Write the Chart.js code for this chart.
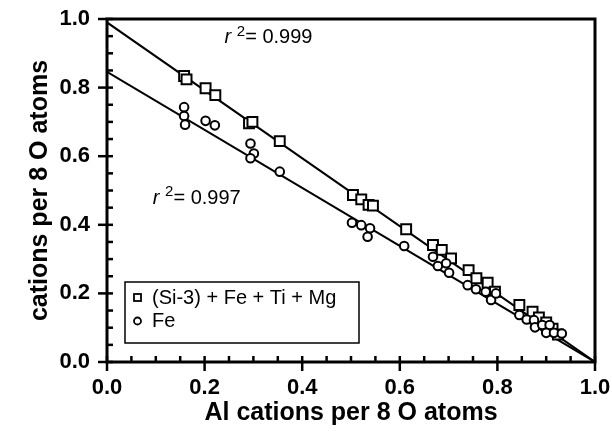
<!DOCTYPE html>
<html>
<head>
<meta charset="utf-8">
<script src="https://cdn.jsdelivr.net/npm/chart.js@4"></script>
<style>
  html, body { margin: 0; padding: 0; background: #fff; }
  #wrap { width: 612px; height: 433px; }
</style>
</head>
<body>
<div id="wrap"><canvas id="c" width="612" height="433"></canvas></div>
<script>
// (Si-3) + Fe + Ti + Mg  (carrés)
const sqX = [0.158, 0.163, 0.202, 0.222, 0.291, 0.298, 0.354, 0.504, 0.521, 0.536, 0.545, 0.613,
  0.668, 0.686, 0.705, 0.741, 0.757, 0.780, 0.795, 0.845, 0.872, 0.885, 0.900, 0.913, 0.924];
const sqY = [0.834, 0.824, 0.798, 0.778, 0.696, 0.700, 0.644, 0.487, 0.474, 0.458, 0.456, 0.387,
  0.341, 0.327, 0.302, 0.268, 0.244, 0.231, 0.205, 0.166, 0.147, 0.130, 0.115, 0.097, 0.080];

// Fe (cercles)
const feX = [0.158, 0.158, 0.160, 0.202, 0.221, 0.294, 0.301, 0.294, 0.354, 0.502, 0.521, 0.539,
  0.534, 0.609, 0.668, 0.678, 0.695, 0.701, 0.739, 0.756, 0.776, 0.787, 0.797, 0.845, 0.860,
  0.875, 0.877, 0.892, 0.907, 0.900, 0.916, 0.932];
const feY = [0.743, 0.717, 0.692, 0.703, 0.690, 0.637, 0.608, 0.594, 0.555, 0.406, 0.399, 0.390,
  0.365, 0.338, 0.307, 0.280, 0.288, 0.260, 0.224, 0.212, 0.205, 0.181, 0.200, 0.137, 0.124,
  0.122, 0.101, 0.108, 0.108, 0.085, 0.085, 0.083];

// droites de régression (extrémités)
const fitSqX = [0, 1];
const fitSqY = [0.99, 0.0];
const fitFeX = [0, 1];
const fitFeY = [0.846, 0.0];

const seriesNames = ['(Si-3) + Fe + Ti + Mg', 'Fe'];
const r2Labels = ['0.999', '0.997'];
const r2At = [[0.241, 0.945], [0.094, 0.478]];

const pts = (xs, ys) => xs.map((x, i) => ({ x: x, y: ys[i] }));

// cadre, graduations, légende et r²
const framePlugin = {
  id: 'frame',
  afterDraw(chart) {
    const ctx = chart.ctx;
    const a = chart.chartArea;
    const sx = chart.scales.x, sy = chart.scales.y;
    ctx.save();
    ctx.strokeStyle = '#000';
    ctx.lineWidth = 3;
    ctx.strokeRect(a.left, a.top, a.right - a.left, a.bottom - a.top);

    ctx.lineWidth = 2.5;
    for (let i = 0; i <= 20; i++) {
      const v = i * 0.05;
      const major = i % 4 === 0;
      const px = sx.getPixelForValue(v);
      ctx.beginPath();
      ctx.moveTo(px, a.bottom - 6);
      ctx.lineTo(px, a.bottom + (major ? 9 : 0));
      ctx.stroke();
      const py = sy.getPixelForValue(v);
      ctx.beginPath();
      ctx.moveTo(a.left + 6, py);
      ctx.lineTo(a.left - (major ? 9 : 0), py);
      ctx.stroke();
    }

    // r²
    ctx.fillStyle = '#000';
    ctx.textBaseline = 'middle';
    r2Labels.forEach((t, i) => {
      let x = sx.getPixelForValue(r2At[i][0]);
      const y = sy.getPixelForValue(r2At[i][1]);
      ctx.font = 'italic 20px "Liberation Sans", Arial, sans-serif';
      ctx.fillText('r', x, y);
      x += ctx.measureText('r ').width;
      ctx.font = '15px "Liberation Sans", Arial, sans-serif';
      ctx.fillText('2', x, y - 6);
      x += ctx.measureText('2').width;
      ctx.font = '20px "Liberation Sans", Arial, sans-serif';
      ctx.fillText('= ' + t, x, y);
    });

    // légende
    const lx = a.left + 18, ly = a.bottom - 80, lw = 234, lh = 61;
    ctx.lineWidth = 1.5;
    ctx.strokeRect(lx, ly, lw, lh);
    ctx.lineWidth = 1.8;
    ctx.strokeRect(lx + 9, ly + 12, 7, 7);
    ctx.beginPath();
    ctx.arc(lx + 12.5, ly + 39, 3.5, 0, Math.PI * 2);
    ctx.stroke();
    ctx.font = '20px "Liberation Sans", Arial, sans-serif';
    ctx.fillText(seriesNames[0], lx + 27, ly + 16);
    ctx.fillText(seriesNames[1], lx + 27, ly + 39);
    ctx.restore();
  }
};

const tickFont = { family: '"Liberation Sans", Arial, sans-serif', size: 22, weight: 'bold' };
const titleFont = { family: '"Liberation Sans", Arial, sans-serif', size: 25, weight: 'bold' };

new Chart(document.getElementById('c'), {
  type: 'scatter',
  data: {
    datasets: [
      {
        label: seriesNames[1],
        data: pts(feX, feY),
        pointStyle: 'circle',
        pointRadius: 4.3,
        pointBorderWidth: 2,
        borderColor: '#000',
        backgroundColor: '#fff'
      },
      {
        label: seriesNames[0],
        data: pts(sqX, sqY),
        pointStyle: 'rect',
        pointRadius: 7,
        pointBorderWidth: 2,
        borderColor: '#000',
        backgroundColor: '#fff'
      },
      {
        label: 'fit Fe',
        data: pts(fitFeX, fitFeY),
        showLine: true,
        pointRadius: 0,
        borderColor: '#000',
        borderWidth: 2
      },
      {
        label: 'fit sq',
        data: pts(fitSqX, fitSqY),
        showLine: true,
        pointRadius: 0,
        borderColor: '#000',
        borderWidth: 2
      }
    ]
  },
  options: {
    responsive: false,
    animation: false,
    layout: { padding: { left: 0, right: 17, top: 19, bottom: 0 } },
    plugins: { legend: { display: false }, tooltip: { enabled: false } },
    scales: {
      x: {
        type: 'linear',
        min: 0,
        max: 1,
        afterFit: s => { s.height = 71; s.paddingLeft = 0; s.paddingRight = 0; },
        grid: { display: false, drawTicks: false },
        border: { display: false },
        ticks: {
          stepSize: 0.2,
          padding: 13,
          color: '#000',
          font: tickFont,
          callback: v => v.toFixed(1)
        },
        title: { display: true, text: 'Al cations per 8 O atoms', color: '#000', font: titleFont, padding: { top: 0, bottom: 5 } }
      },
      y: {
        type: 'linear',
        min: 0,
        max: 1,
        afterFit: s => { s.width = 107; s.paddingTop = 0; s.paddingBottom = 0; },
        grid: { display: false, drawTicks: false },
        border: { display: false },
        ticks: {
          stepSize: 0.2,
          padding: 17,
          color: '#000',
          font: tickFont,
          callback: v => v.toFixed(1)
        },
        title: { display: true, text: 'cations per 8 O atoms', color: '#000', font: titleFont, padding: { top: 25, bottom: 0 } }
      }
    }
  },
  plugins: [framePlugin]
});
</script>
</body>
</html>
